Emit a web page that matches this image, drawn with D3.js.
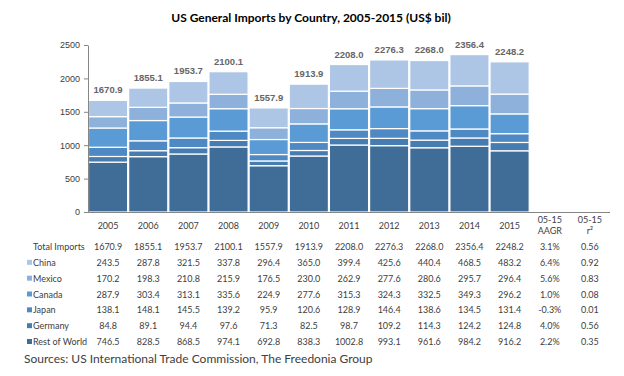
<!DOCTYPE html>
<html>
<head>
<meta charset="utf-8">
<script src="https://cdn.jsdelivr.net/npm/d3@7"></script>
<style>
  body { margin: 0; background: #fff; }
</style>
</head>
<body>
<div id="chart"></div>
<script>
  const years = ["2005", "2006", "2007", "2008", "2009", "2010", "2011", "2012", "2013", "2014", "2015"];
  const seriesNames = ["Rest of World", "Germany", "Japan", "Canada", "Mexico", "China"];
  const restOfWorld = [746.5, 828.5, 868.5, 974.1, 692.8, 838.3, 1002.8, 993.1, 961.6, 984.2, 916.2];
  const germany = [84.8, 89.1, 94.4, 97.6, 71.3, 82.5, 98.7, 109.2, 114.3, 124.2, 124.8];
  const japan = [138.1, 148.1, 145.5, 139.2, 95.9, 120.6, 128.9, 146.4, 138.6, 134.5, 131.4];
  const canada = [287.9, 303.4, 313.1, 335.6, 224.9, 277.6, 315.3, 324.3, 332.5, 349.3, 296.2];
  const mexico = [170.2, 198.3, 210.8, 215.9, 176.5, 230.0, 262.9, 277.6, 280.6, 295.7, 296.4];
  const china = [243.5, 287.8, 321.5, 337.8, 296.4, 365.0, 399.4, 425.6, 440.4, 468.5, 483.2];
  const totals = [1670.9, 1855.1, 1953.7, 2100.1, 1557.9, 1913.9, 2208.0, 2276.3, 2268.0, 2356.4, 2248.2];
  const aagr = ["3.1%", "6.4%", "5.6%", "1.0%", "-0.3%", "4.0%", "2.2%"];
  const rsq = ["0.56", "0.92", "0.83", "0.08", "0.01", "0.56", "0.35"];
  const yTicks = [0, 500, 1000, 1500, 2000, 2500];

  const COLORS = {
    "Rest of World": "#406c98",
    "Germany": "#477cb1",
    "Japan": "#4f89c3",
    "Canada": "#5b9bd5",
    "Mexico": "#8eb1dc",
    "China": "#aec6e5"
  };

  const width = 624;
  const height = 376;

  const svg = d3.select("#chart")
    .append("svg")
    .attr("width", width)
    .attr("height", height);

  const columns = years.concat(["aagr", "rsq"]);

  const x = d3.scaleBand()
    .domain(columns)
    .range([88, 610])
    .padding(0);

  const y = d3.scaleLinear()
    .domain([0, 2500])
    .range([212, 45]);

  // title
  svg.append("text")
    .attr("x", 311)
    .attr("y", 22)
    .attr("text-anchor", "middle")
    .attr("font-family", "Lato, sans-serif")
    .attr("font-weight", "bold")
    .attr("font-size", 12)
    .attr("fill", "#000")
    .text("US General Imports by Country, 2005-2015 (US$ bil)");

  // stacked bars
  const rows = years.map((yr, i) => ({
    year: yr,
    "Rest of World": restOfWorld[i],
    "Germany": germany[i],
    "Japan": japan[i],
    "Canada": canada[i],
    "Mexico": mexico[i],
    "China": china[i]
  }));

  const stacked = d3.stack().keys(seriesNames)(rows);

  svg.append("g")
    .selectAll("g")
    .data(stacked)
    .join("g")
    .attr("fill", d => COLORS[d.key])
    .selectAll("rect")
    .data(d => d)
    .join("rect")
    .attr("x", d => x(d.data.year) + 0.5)
    .attr("y", d => y(d[1]))
    .attr("width", x.bandwidth() - 1)
    .attr("height", d => y(d[0]) - y(d[1]))
    .attr("stroke", "#fff")
    .attr("stroke-width", 1.2);

  // total labels
  svg.append("g")
    .selectAll("text")
    .data(years)
    .join("text")
    .attr("x", d => x(d) + x.bandwidth() / 2)
    .attr("y", (d, i) => y(totals[i]) - 7)
    .attr("text-anchor", "middle")
    .attr("font-family", "'Liberation Sans', Arial, sans-serif")
    .attr("font-weight", "bold")
    .attr("font-size", 9.5)
    .attr("fill", "#666")
    .text((d, i) => totals[i].toFixed(1));

  // y axis
  const yAxis = svg.append("g")
    .attr("transform", "translate(88,0)")
    .call(d3.axisLeft(y).tickValues(yTicks).tickFormat(d3.format("d")).tickSize(4).tickSizeOuter(0));
  yAxis.select(".domain").attr("stroke", "#868686");
  yAxis.selectAll(".tick line").attr("stroke", "#868686");
  yAxis.selectAll(".tick text")
    .attr("x", -8)
    .attr("font-family", "'Liberation Sans', Arial, sans-serif")
    .attr("font-size", 9)
    .attr("fill", "#404040");

  // x axis line
  svg.append("line")
    .attr("x1", 88).attr("x2", 610)
    .attr("y1", 212.5).attr("y2", 212.5)
    .attr("stroke", "#868686")
    .attr("stroke-width", 1);

  // data table
  const tableFont = "Lato, sans-serif";
  const table = svg.append("g")
    .attr("font-family", tableFont)
    .attr("font-size", 9)
    .attr("fill", "#404040");

  table.selectAll("text.year")
    .data(years)
    .join("text")
    .attr("class", "year")
    .attr("x", d => x(d) + x.bandwidth() / 2)
    .attr("y", 229)
    .attr("text-anchor", "middle")
    .text(d => d);

  [["aagr", "AAGR"], ["rsq", "r²"]].forEach(([key, label]) => {
    table.append("text")
      .attr("x", x(key) + x.bandwidth() / 2)
      .attr("y", 223)
      .attr("text-anchor", "middle")
      .text("05-15");
    table.append("text")
      .attr("x", x(key) + x.bandwidth() / 2)
      .attr("y", 234)
      .attr("text-anchor", "middle")
      .text(label);
  });

  const tableRows = [
    { label: "Total Imports", values: totals, g: aagr[0], r: rsq[0], swatch: null },
    { label: "China", values: china, g: aagr[1], r: rsq[1], swatch: COLORS["China"] },
    { label: "Mexico", values: mexico, g: aagr[2], r: rsq[2], swatch: COLORS["Mexico"] },
    { label: "Canada", values: canada, g: aagr[3], r: rsq[3], swatch: COLORS["Canada"] },
    { label: "Japan", values: japan, g: aagr[4], r: rsq[4], swatch: COLORS["Japan"] },
    { label: "Germany", values: germany, g: aagr[5], r: rsq[5], swatch: COLORS["Germany"] },
    { label: "Rest of World", values: restOfWorld, g: aagr[6], r: rsq[6], swatch: COLORS["Rest of World"] }
  ];

  const rowY = d3.scalePoint()
    .domain(tableRows.map(d => d.label))
    .range([250, 345]);

  tableRows.forEach(row => {
    const yy = rowY(row.label);
    if (row.swatch) {
      table.append("rect")
        .attr("x", 27)
        .attr("y", yy - 6)
        .attr("width", 5)
        .attr("height", 5)
        .attr("fill", row.swatch);
    }
    table.append("text")
      .attr("x", 33)
      .attr("y", yy)
      .text(row.label);
    row.values.forEach((v, i) => {
      table.append("text")
        .attr("x", x(years[i]) + x.bandwidth() / 2)
        .attr("y", yy)
        .attr("text-anchor", "middle")
        .text(v.toFixed(1));
    });
    table.append("text")
      .attr("x", x("aagr") + x.bandwidth() / 2)
      .attr("y", yy)
      .attr("text-anchor", "middle")
      .text(row.g);
    table.append("text")
      .attr("x", x("rsq") + x.bandwidth() / 2)
      .attr("y", yy)
      .attr("text-anchor", "middle")
      .text(row.r);
  });

  // source
  svg.append("text")
    .attr("x", 24)
    .attr("y", 363)
    .attr("font-family", tableFont)
    .attr("font-size", 12)
    .attr("fill", "#404040")
    .text("Sources: US International Trade Commission, The Freedonia Group");
</script>
</body>
</html>
